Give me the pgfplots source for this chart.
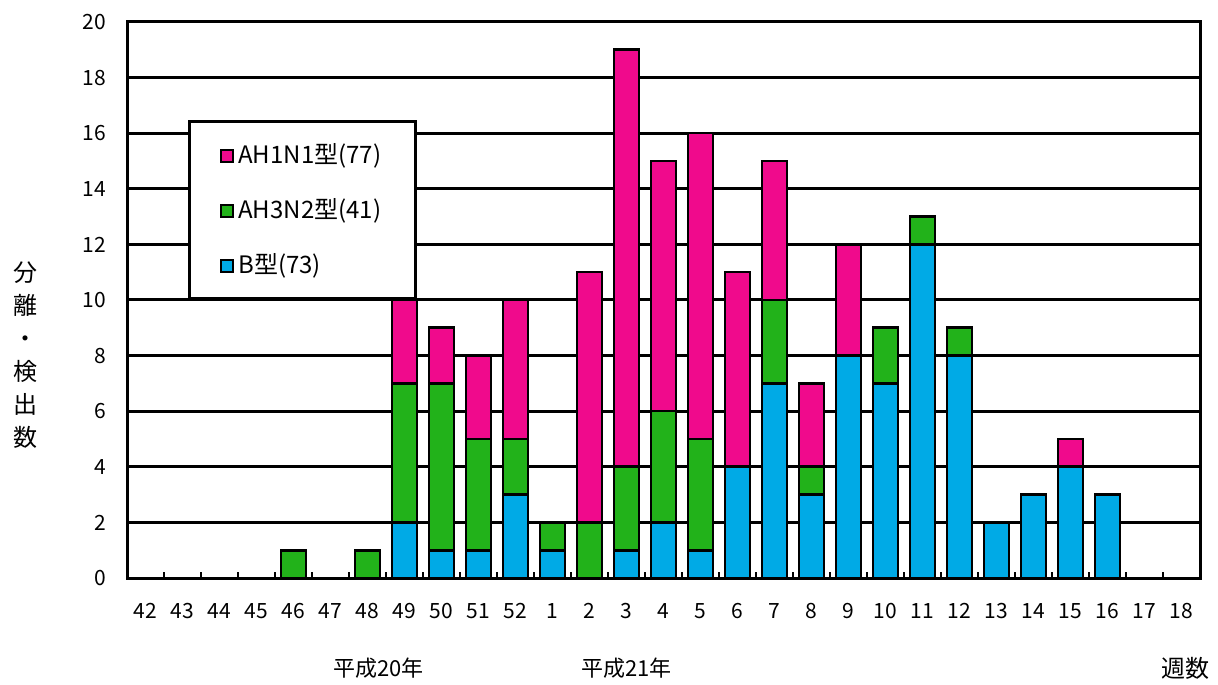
\documentclass[border=0pt]{standalone}
\usepackage{pgfplots}
\pgfplotsset{compat=1.18}
\usepackage{fontspec}
\setmainfont{Noto Sans CJK JP}
\definecolor{cpink}{RGB}{240,10,140}
\definecolor{cgreen}{RGB}{34,178,26}
\definecolor{cblue}{RGB}{0,170,230}
\begin{document}
\begin{tikzpicture}
\useasboundingbox (0,0) rectangle (609pt,342pt);
\begin{axis}[at={(63.5pt,53pt)}, anchor=south west, scale only axis,
  width=536.5pt, height=278pt, clip=false,
  ybar stacked, bar width=12.5pt,
  xmin=-0.5, xmax=28.5, ymin=0, ymax=20, ytick={0,2,...,20},
  xtick={0,...,28},
  xticklabels={42,43,44,45,46,47,48,49,50,51,52,1,2,3,4,5,6,7,8,9,10,11,12,13,14,15,16,17,18},
  minor xtick={-0.5,0.5,...,28.5},
  major tick length=0pt, minor tick length=3pt, tick align=inside,
  xtick pos=bottom, ytick pos=left,
  minor tick style={black, line width=1.2pt},
  ymajorgrids, grid style={black, line width=1.5pt},
  axis line style={line width=1.5pt},
  /pgf/number format/assume math mode=true,
  tick label style={font=\fontsize{10.5pt}{12pt}\selectfont},
  xticklabel style={yshift=-9pt},
  yticklabel style={xshift=-7pt},
  every axis plot/.append style={draw=black, line width=1.3pt},
  reverse legend,
  legend style={at={(axis description cs:0.057,0.824)}, anchor=north west,
    draw=black, line width=1.5pt, font=\fontsize{12pt}{13pt}\selectfont,
    row sep=12pt, inner xsep=15pt, inner ysep=9pt, cells={anchor=west}},
  legend image code/.code={\draw[#1, line width=1.3pt] (0pt,-3.5pt) rectangle (6pt,2.5pt);},
]
\addplot[fill=cblue] coordinates {(0,0)(1,0)(2,0)(3,0)(4,0)(5,0)(6,0)(7,2)(8,1)(9,1)(10,3)(11,1)(12,0)(13,1)(14,2)(15,1)(16,4)(17,7)(18,3)(19,8)(20,7)(21,12)(22,8)(23,2)(24,3)(25,4)(26,3)(27,0)(28,0)};
\addlegendentry{B型(73)}
\addplot[fill=cgreen] coordinates {(0,0)(1,0)(2,0)(3,0)(4,1)(5,0)(6,1)(7,5)(8,6)(9,4)(10,2)(11,1)(12,2)(13,3)(14,4)(15,4)(16,0)(17,3)(18,1)(19,0)(20,2)(21,1)(22,1)(23,0)(24,0)(25,0)(26,0)(27,0)(28,0)};
\addlegendentry{AH3N2型(41)}
\addplot[fill=cpink] coordinates {(0,0)(1,0)(2,0)(3,0)(4,0)(5,0)(6,0)(7,3)(8,2)(9,3)(10,5)(11,0)(12,9)(13,15)(14,9)(15,11)(16,7)(17,5)(18,3)(19,4)(20,0)(21,0)(22,0)(23,0)(24,0)(25,1)(26,0)(27,0)(28,0)};
\addlegendentry{AH1N1型(77)}
\node[font=\fontsize{11pt}{12pt}\selectfont] at (axis cs:6.3,-3.24) {平成20年};
\node[font=\fontsize{11pt}{12pt}\selectfont] at (axis cs:13.0,-3.24) {平成21年};
\node[font=\fontsize{12pt}{12pt}\selectfont] at (axis cs:28.1,-3.24) {週数};
\node[font=\fontsize{12pt}{16.5pt}\selectfont, align=center] at (axis description cs:-0.095,0.40) {分\\離\\・\\検\\出\\数};
\end{axis}
\end{tikzpicture}
\end{document}
